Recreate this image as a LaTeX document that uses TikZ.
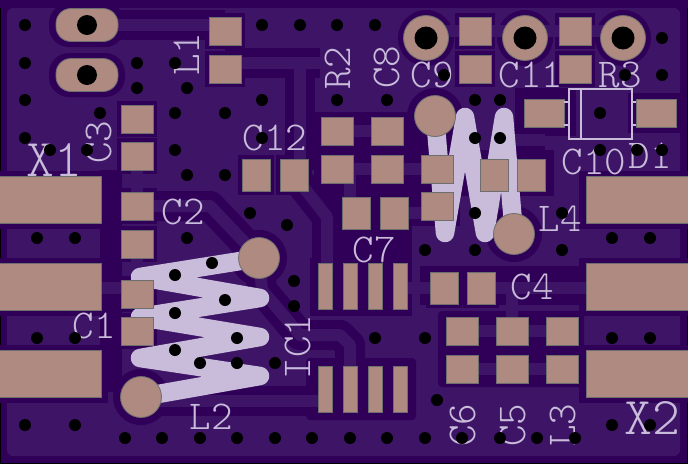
\documentclass[tikz,border=0pt]{standalone}
\usepackage{fontspec}
\definecolor{gapcol}{HTML}{300058}
\definecolor{pourcol}{HTML}{3D1466}
\definecolor{padcol}{HTML}{AE8A80}
\definecolor{edgecol}{HTML}{6E6E6E}
\definecolor{silkcol}{HTML}{C8BCDA}
\tikzset{
  pad/.style={fill=padcol,draw=edgecol,line width=.8pt,inner sep=0pt},
  padwide/.style={pad,minimum width=32pt,minimum height=28pt},
  padtall/.style={pad,minimum width=28pt,minimum height=32pt},
  padlong/.style={pad,minimum width=40pt,minimum height=28pt},
  padic/.style={pad,minimum width=14pt,minimum height=46pt},
  padend/.style={pad,minimum width=102pt,minimum height=47pt},
  padoval/.style={pad,rounded corners=15pt,minimum width=62pt,minimum height=33pt},
  padround/.style={pad,circle,minimum size=41pt},
  padring/.style={pad,circle,minimum size=45pt},
  via/.style={circle,fill=black,inner sep=0pt,minimum size=12pt},
  drill/.style={circle,fill=black,inner sep=0pt,minimum size=23pt},
  silk/.style={text=silkcol,inner sep=0pt,font=\ttfamily\fontseries{l}\fontsize{41}{41}\selectfont},
  silkbig/.style={text=silkcol,inner sep=0pt,font=\ttfamily\fontseries{l}\fontsize{53}{53}\selectfont},
  trace/.style={pourcol,line width=12pt,line join=round},
  gap/.style={gapcol,line width=30pt,line join=round},
  coil/.style={silkcol,line width=18.5pt,line join=round,line cap=round}
}
\def\wideset{225/31,225/69,137/119,137/156,137/206,137/244,137/294,137/331,337/131,387/131,337/169,387/169,475/31,475/69,575/31,575/69,437/169,437/206,462/331,512/331,562/331,462/369,512/369,562/369}
\def\tallset{256/175,294/175,356/213,394/213,494/175,531/175,444/288,481/288}
\def\icset{325/286,350/286,375/286,400/286,325/389,350/389,375/389,400/389}
\def\endset{50/200,50/287,50/374,637/200,637/287,637/374}
\def\viaset{25/25,25/63,25/100,25/138,50/150,87/150,100/113,137/63,175/63,137/88,187/88,175/113,225/113,262/100,262/138,175/150,187/175,225/175,250/213,287/225,262/25,300/25,337/25,337/100,375/25,387/100,444/75,475/100,500/100,475/138,500/138,475/213,562/213,600/113,600/150,637/150,662/150,625/75,662/75,662/38,37/238,75/238,187/238,212/263,175/275,225/300,175/313,237/338,175/350,200/363,237/363,275/363,294/281,294/306,37/338,75/338,25/425,75/425,125/438,162/438,200/438,237/438,275/438,312/438,425/250,475/250,562/250,612/238,650/238,375/338,425/338,612/338,650/338,437/400,350/438,387/438,425/438,462/438,500/438,537/438,575/438,612/425,650/425}
\begin{document}
\begin{tikzpicture}[x=1pt,y=-1pt]
  \useasboundingbox (0,0) rectangle (688,464);
  \fill[black] (0,0) rectangle (688,464);
  \fill[gapcol] (1,1) rectangle (687,463);
  \fill[pourcol,rounded corners=6pt] (7,8) rectangle (680,456);
  % clearing round the parts
  \fill[gapcol] (314,112) rectangle (412,262);
  \fill[gapcol] (412,150) rectangle (554,196);
  \fill[gapcol] (412,112) rectangle (460,226);
  \fill[gapcol] (310,258) rectangle (412,316);
  \fill[gapcol] (100,170) rectangle (122,392);
  \fill[gapcol,rounded corners=4pt] (306,358) rectangle (416,420);
  \fill[gapcol,rounded corners=4pt] (438,311) rectangle (584,387);
  \fill[gapcol] (420,266) rectangle (584,305);
  \fill[gapcol] (515,88) rectangle (576,136);
  \fill[gapcol] (0,0) rectangle (688,8);
  \foreach \x/\y in \wideset
    \fill[gapcol] (\x-20,\y-18) rectangle (\x+20,\y+18);
  \foreach \x/\y in \tallset
    \fill[gapcol] (\x-18,\y-20) rectangle (\x+18,\y+20);
  \foreach \x/\y in \endset
    \fill[gapcol] (\x-58,\y-29) rectangle (\x+58,\y+29);
  \foreach \x/\y in {87/25,87/75}
    \fill[gapcol,rounded corners=20pt] (\x-38,\y-22) rectangle (\x+38,\y+22);
  \foreach \x/\y in {426/38,525/38,623/38,259/258,141/397,435/116,514/234}
    \fill[gapcol] (\x,\y) circle (28);
  \foreach \x/\y in {544/113,656/113}
    \fill[gapcol] (\x-28,\y-20) rectangle (\x+28,\y+20);
  % traces with their clearing, then the copper
  \def\runone{(100,25) -- (225,25)}
  \def\runtwo{(225,63) -- (320,63) (300,63) -- (300,170)}
  \def\runthree{(137,206) -- (210,206) -- (250,248)}
  \def\runfour{(294,175) -- (327,217) -- (327,270)}
  \def\runfive{(259,258) -- (262,290) -- (300,335) -- (340,335) -- (350,345) -- (350,380)}
  \def\runsix{(141,401) -- (325,401)}
  \draw[gap] \runone; \draw[gap] \runtwo; \draw[gap] \runfour; \draw[gap] \runsix;
  \draw[gap] \runthree; \draw[gap] \runfive;
  \draw[trace] \runone; \draw[trace] \runtwo; \draw[trace] \runthree;
  \draw[trace] \runfour; \draw[trace] \runfive; \draw[trace] \runsix;
  \draw[gap,line width=22pt] (510,140) -- (545,140);
  \draw[trace] (137,156) -- (137,206) (137,244) -- (137,294) (50,288) -- (137,288);
  \draw[trace] (337,131) -- (387,131) (337,169) -- (437,169) (350,169) -- (350,213);
  \draw[trace] (394,213) -- (437,213) (510,140) -- (545,140);
  \draw[trace] (400,288) -- (444,288) (481,288) -- (637,288) (512,288) -- (512,331);
  \draw[trace] (462,331) -- (562,331) (462,369) -- (562,369);
  \draw[trace] (426,31) -- (623,31);
  % the two coils
  \draw[coil] (259,258) -- (140,277) -- (260,298) -- (140,317) -- (260,337) -- (140,358) -- (260,376) -- (141,397);
  \draw[coil] (435,116) -- (445,233) -- (465,117) -- (485,233) -- (504,117) -- (514,234);
  % the pads
  \foreach \x/\y [count=\n] in \wideset \node[padwide] (wide\n) at (\x,\y) {};
  \foreach \x/\y [count=\n] in \tallset \node[padtall] (tall\n) at (\x,\y) {};
  \foreach \x/\y [count=\n] in \icset \node[padic] (ic\n) at (\x,\y) {};
  \foreach \x/\y [count=\n] in \endset \node[padend] (end\n) at (\x,\y) {};
  \foreach \x/\y [count=\n] in {544/113,656/113} \node[padlong] (long\n) at (\x,\y) {};
  \foreach \x/\y [count=\n] in {87/25,87/75} {
    \node[padoval] (oval\n) at (\x,\y) {};
    \node[drill,minimum size=20pt] (ovalhole\n) at (\x,\y) {};
  }
  \foreach \x/\y [count=\n] in {426/38,525/38,623/38} {
    \node[padring] (ring\n) at (\x,\y) {};
    \node[drill] (ringhole\n) at (\x,\y) {};
  }
  \foreach \x/\y [count=\n] in {259/258,141/397,435/116,514/234} \node[padround] (round\n) at (\x,\y) {};
  % the diode outline
  \draw[silkcol,line width=2pt] (569,89) rectangle (632,139) (581,89) -- (581,139);
  \draw[silkcol,line width=2pt] (564,102) -- (569,102) (564,125) -- (569,125) (632,102) -- (636,102) (632,125) -- (636,125);
  % the labels
  \node[silkbig] (labelXa) at (54,160) {X1};
  \node[silkbig] (labelXb) at (652,418) {X2};
  \foreach \t/\x/\y [count=\n] in {C12/275/138,C2/183/212,C1/94/326,L2/211/417,C7/374/250,C4/532/287,L4/560/219,C9/432/75,C11/531/75,R3/620/75,C10/594/162,D1/650/156}
    \node[silk] (label\n) at (\x,\y) {\t};
  \foreach \t/\x/\y [count=\n] in {L1/187/54,C3/99/142,R2/338/68,C8/387/67,IC1/298/347,C6/463/425,C5/513/425,L3/563/425}
    \node[silk,rotate=90] (turned\n) at (\x,\y) {\t};
  % the vias go on top
  \foreach \x/\y [count=\n] in \viaset \node[via] (via\n) at (\x,\y) {};
\end{tikzpicture}
\end{document}
